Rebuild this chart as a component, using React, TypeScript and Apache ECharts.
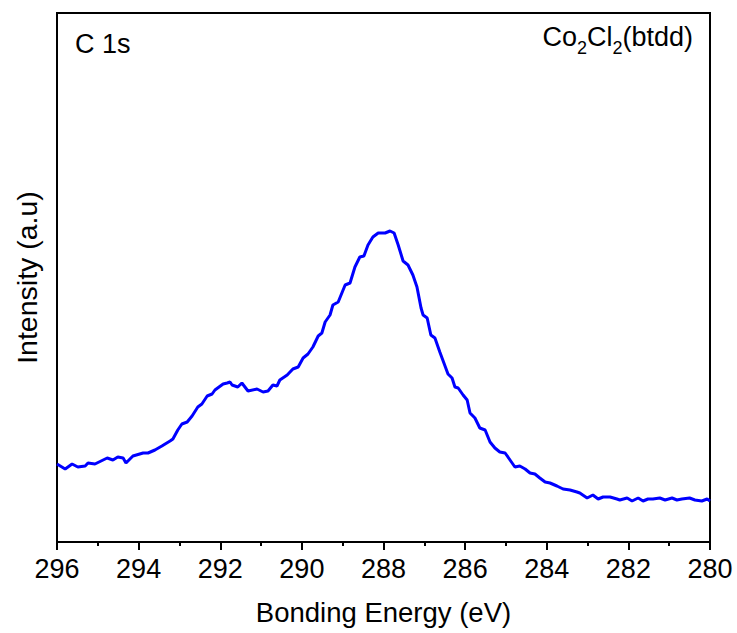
import React, { useEffect, useRef } from "react";
import * as echarts from "echarts";

const energy: number[] = [
  296.0, 295.8, 295.63, 295.49, 295.31, 295.24, 295.07, 294.77, 294.63, 294.51,
  294.38, 294.31, 294.14, 293.89, 293.77, 293.6, 293.43, 293.23, 293.16, 293.04,
  292.94, 292.81, 292.69, 292.55, 292.45, 292.32, 292.2, 292.13, 291.93, 291.83,
  291.76, 291.71, 291.57, 291.47, 291.32, 291.1, 290.95, 290.83, 290.71, 290.61,
  290.54, 290.36, 290.22, 290.09, 289.97, 289.85, 289.73, 289.6, 289.51, 289.43,
  289.31, 289.24, 289.11, 288.94, 288.82, 288.7, 288.58, 288.48, 288.38, 288.26,
  288.13, 287.96, 287.84, 287.74, 287.64, 287.52, 287.4, 287.28, 287.18, 287.08,
  287.03, 286.93, 286.84, 286.74, 286.62, 286.52, 286.42, 286.32, 286.25, 286.17,
  286.05, 285.95, 285.88, 285.76, 285.64, 285.51, 285.39, 285.27, 285.15, 285.02,
  284.9, 284.78, 284.66, 284.53, 284.41, 284.29, 284.17, 284.04, 283.92, 283.75,
  283.6, 283.43, 283.26, 283.19, 283.01, 282.87, 282.74, 282.62, 282.45, 282.28,
  282.21, 282.03, 281.91, 281.76, 281.64, 281.52, 281.4, 281.23, 281.1, 280.93,
  280.81, 280.69, 280.5, 280.37, 280.2, 280.07, 280.0,
];

const intensity: number[] = [
  78, 73, 78, 75, 76, 79, 78, 84, 82, 85,
  84, 79, 86, 89, 89, 92, 96, 101, 103, 112,
  118, 120, 126, 135, 138, 146, 148, 152, 158, 159,
  160, 157, 155, 159, 151, 153, 150, 151, 157, 156,
  162, 167, 173, 175, 184, 188, 195, 206, 209, 220,
  227, 237, 240, 257, 259, 275, 285, 286, 297, 305,
  309, 309, 311, 309, 297, 281, 277, 267, 255, 234,
  227, 224, 207, 204, 190, 179, 168, 164, 155, 154,
  147, 142, 129, 124, 114, 112, 100, 94, 90, 89,
  82, 75, 76, 73, 69, 68, 64, 60, 59, 56,
  53, 52, 50, 49, 44, 47, 43, 45, 45, 43,
  42, 44, 41, 44, 41, 43, 43, 44, 42, 44,
  42, 43, 44, 42, 41, 43, 41,
];

const xMin = 280;
const xMax = 296;
const xInterval = 2;

const xTitle = "Bonding Energy (eV)";
const yTitle = "Intensity (a.u)";
const coreLevel = "C 1s";

const FONT = "Liberation Sans, Arial, sans-serif";

export default function App() {
  const ref = useRef<HTMLDivElement>(null);

  useEffect(() => {
    if (!ref.current) return;
    const chart = echarts.init(ref.current, null, { renderer: "svg" });
    const data = energy.map((e, i) => [e, intensity[i]]);
    chart.setOption({
      animation: false,
      backgroundColor: "#ffffff",
      textStyle: { fontFamily: FONT },
      grid: {
        left: 57,
        top: 13,
        right: 27,
        bottom: 91,
        show: true,
        borderColor: "#000",
        borderWidth: 2,
        backgroundColor: "transparent",
      },
      xAxis: {
        type: "value",
        min: xMin,
        max: xMax,
        interval: xInterval,
        inverse: true,
        name: xTitle,
        nameLocation: "middle",
        nameGap: 56,
        nameTextStyle: { fontSize: 27.5, color: "#000", fontFamily: FONT },
        axisLine: { show: true, lineStyle: { color: "#000", width: 2 } },
        axisTick: { show: true, inside: false, length: 8, lineStyle: { color: "#000", width: 2 } },
        minorTick: { show: true, splitNumber: 2, length: 4, lineStyle: { color: "#000", width: 2 } },
        axisLabel: { fontSize: 27, color: "#000", margin: 13, fontFamily: FONT },
        splitLine: { show: false },
      },
      yAxis: {
        type: "value",
        min: 0,
        max: 529,
        name: yTitle,
        nameLocation: "middle",
        nameGap: 16,
        nameRotate: 90,
        nameTextStyle: { fontSize: 28.5, color: "#000", fontFamily: FONT },
        axisLine: { show: true, lineStyle: { color: "#000", width: 2 } },
        axisTick: { show: false },
        axisLabel: { show: false },
        splitLine: { show: false },
      },
      graphic: [
        {
          type: "text",
          left: 75,
          top: 30,
          style: { text: coreLevel, fontSize: 27, fill: "#000", fontFamily: FONT },
        },
        {
          type: "text",
          right: 44,
          top: 23,
          style: {
            text: "{m|Co}{s|2}{m|Cl}{s|2}{m|(btdd)}",
            fill: "#000",
            fontFamily: FONT,
            rich: {
              m: { fontSize: 27, lineHeight: 40, verticalAlign: "middle", fontFamily: FONT, fill: "#000" },
              s: { fontSize: 18, lineHeight: 18, verticalAlign: "bottom", fontFamily: FONT, fill: "#000" },
            },
          },
        },
      ],
      series: [
        {
          type: "line",
          data,
          showSymbol: false,
          smooth: false,
          lineStyle: { color: "#0000ff", width: 3 },
          itemStyle: { color: "#0000ff" },
        },
      ],
    });
    return () => chart.dispose();
  }, []);

  return (
    <div
      ref={ref}
      style={{ position: "fixed", left: 0, top: 0, width: 737, height: 633, background: "#fff" }}
    />
  );
}
